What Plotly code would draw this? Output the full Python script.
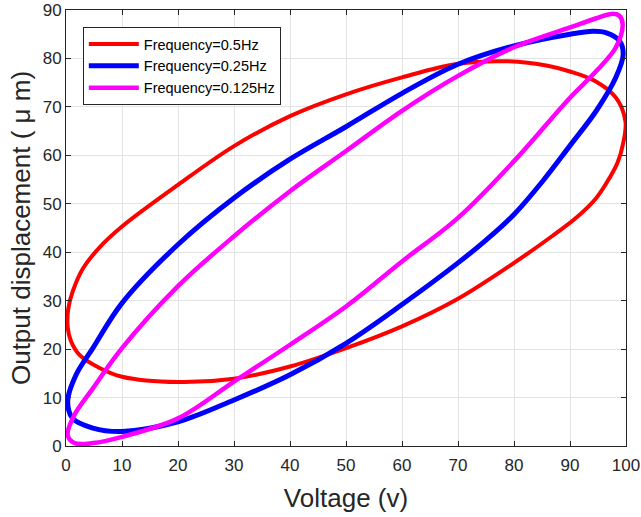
import plotly.graph_objects as go

# Frequency = 0.5 Hz loop (starts/ends mid upper branch)
red_x = [50, 60, 70, 79, 86, 90, 94.7, 98.2, 99.9, 99.5, 98.5, 97.1, 94.7, 91.1, 86.9, 80, 70, 60, 50, 40, 30, 20, 10, 6, 2.4, 0.9, 0.3, 0.4, 1.2, 3, 6, 10, 20, 30, 40, 50]
red_y = [72.6, 76.1, 78.9, 79.4, 78.5, 77.3, 75.2, 71.9, 67.0, 62.5, 58.5, 55.4, 51.2, 47.1, 43.4, 37.8, 30.4, 24.7, 20.2, 16.4, 13.9, 13.2, 14.3, 16.1, 18.8, 21.6, 24.6, 28.3, 31.9, 36.6, 41.0, 45.3, 53.9, 61.9, 68.1, 72.6]

# Frequency = 0.25 Hz loop
blue_x = [50, 60, 70, 80, 90, 94.1, 96.5, 98.8, 99.5, 98.2, 94.7, 90, 85, 80, 75, 70, 60, 50, 40, 30, 20, 10, 4.8, 1.2, 0.3, 1.8, 4.8, 10, 20, 30, 40, 50]
blue_y = [65.9, 72.8, 78.8, 82.6, 85.0, 85.6, 85.3, 83.7, 80.9, 76.1, 69.2, 62.0, 54.5, 47.8, 42.5, 37.8, 29.2, 21.2, 14.7, 9.5, 5.0, 3.0, 3.7, 5.7, 9.2, 14.7, 20.2, 29.5, 41.6, 51.2, 59.2, 65.9]

# Frequency = 0.125 Hz loop
mag_x = [50, 60, 70, 80, 90, 94.7, 97.4, 98.8, 99.4, 98.2, 94.7, 90, 80, 70, 60, 50, 40, 30, 20, 10, 4.8, 1.5, 0.3, 1.5, 4.8, 10, 20, 30, 40, 50]
mag_y = [60.9, 69.2, 76.4, 82.3, 86.4, 88.3, 89.2, 88.8, 87.1, 82.3, 77.4, 71.9, 58.8, 47.1, 38.1, 28.8, 20.9, 13.3, 5.7, 1.9, 0.6, 0.6, 2.3, 6.4, 11.9, 20.2, 33.0, 43.3, 52.6, 60.9]

names = ["Frequency=0.5Hz", "Frequency=0.25Hz", "Frequency=0.125Hz"]
colors = ["#ff0000", "#0000ff", "#ff00ff"]
widths = [4, 5, 4.5]

x_ticks = [0, 10, 20, 30, 40, 50, 60, 70, 80, 90, 100]
y_ticks = [0, 10, 20, 30, 40, 50, 60, 70, 80, 90]

fig = go.Figure()
for xs, ys, nm, c, w in zip([red_x, blue_x, mag_x], [red_y, blue_y, mag_y], names, colors, widths):
    fig.add_trace(go.Scatter(x=xs, y=ys, mode="lines", name=nm,
                             line=dict(color=c, width=w, shape="spline", smoothing=1.0)))

font_family = "Liberation Sans, Arial, sans-serif"
axis_common = dict(
    showline=True, linecolor="#262626", linewidth=1, mirror="allticks",
    ticks="inside", ticklen=5, tickcolor="#262626",
    showgrid=True, gridcolor="#e3e3e3", gridwidth=1, zeroline=False,
    tickfont=dict(family=font_family, size=17, color="#262626"),
    automargin=False,
)

fig.update_layout(
    width=641, height=517,
    margin=dict(l=66, r=15, t=10, b=71),
    paper_bgcolor="white", plot_bgcolor="white",
    font=dict(family=font_family, color="#262626"),
    xaxis=dict(range=[0, 100], tickvals=x_ticks, ticktext=[str(v) for v in x_ticks],
               ticklabelstandoff=4,
               title=dict(text="Voltage (v)", font=dict(size=26, family=font_family, color="#262626"), standoff=14),
               **axis_common),
    yaxis=dict(range=[0, 90], tickvals=y_ticks, ticktext=[str(v) for v in y_ticks],
               title=dict(text="Output displacement ( \u03bc m)", font=dict(size=26, family=font_family, color="#262626"), standoff=4),
               **axis_common),
    legend=dict(x=0.03, y=0.961, xanchor="left", yanchor="top",
                bgcolor="white", bordercolor="#262626", borderwidth=1,
                font=dict(family=font_family, size=14.5, color="#000000"),
                tracegroupgap=0, itemwidth=50),
    showlegend=True,
)

fig.write_html("out.html", config={"displayModeBar": False},
               post_script="document.body.style.margin='0px';")
